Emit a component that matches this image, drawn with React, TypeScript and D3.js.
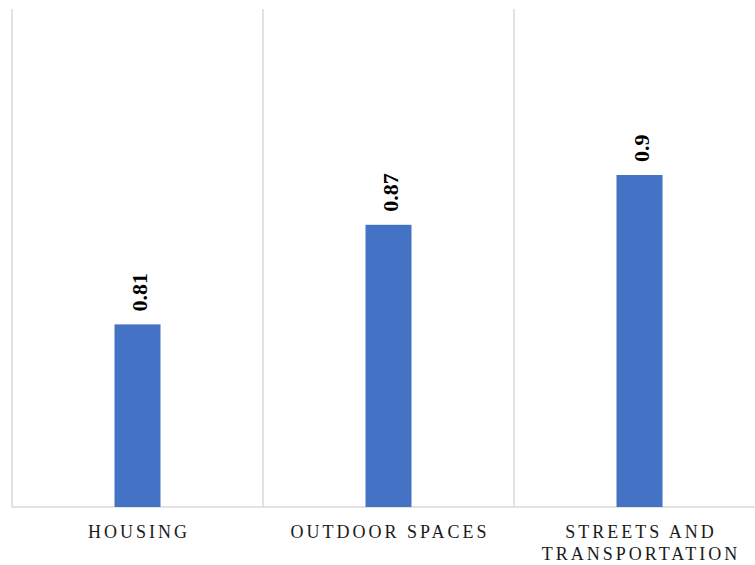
import React from "react";
import * as d3 from "d3";

const categories: string[][] = [["HOUSING"], ["OUTDOOR SPACES"], ["STREETS AND", "TRANSPORTATION"]];
const categoryKeys = ["Housing", "Outdoor Spaces", "Streets and Transportation"];
const values = [0.81, 0.87, 0.9];
const valueLabels = ["0.81", "0.87", "0.9"];

const W = 755;
const H = 565;
const left = 12;
const right = 765;
const top = 9;
const bottom = 507;
const barWidth = 46;

export default function App() {
  const x = d3.scaleBand<string>().domain(categoryKeys).range([left, right]).padding(0);
  const y = d3.scaleLinear().domain([0.7, 1.0]).range([bottom, top]);
  const step = x.step();

  return (
    <svg width={W} height={H} style={{ position: "absolute", left: 0, top: 0, background: "#fff" }}>
      {categoryKeys.map((k) => (
        <line key={"g" + k} x1={x(k)!} x2={x(k)!} y1={top} y2={bottom} stroke="#d9d9d9" strokeWidth={1.5} />
      ))}
      <line x1={left} x2={W} y1={bottom} y2={bottom} stroke="#d9d9d9" strokeWidth={1.5} />
      {categoryKeys.map((k, i) => {
        const cx = x(k)! + step / 2;
        const yt = y(values[i]);
        return (
          <g key={k}>
            <rect x={cx - barWidth / 2} y={yt} width={barWidth} height={bottom - yt} fill="#4472C4" />
            <text
              transform={`translate(${cx + 1.5},${yt - 13}) rotate(-90)`}
              dy="0.35em"
              textAnchor="start"
              fontFamily="Liberation Serif, Times New Roman, serif"
              fontWeight="bold"
              fontSize={22}
              fill="#000"
            >
              {valueLabels[i]}
            </text>
            {categories[i].map((line, j) => (
              <text
                key={j}
                x={cx + 1.5}
                y={538 + j * 22}
                textAnchor="middle"
                fontFamily="Liberation Serif, Times New Roman, serif"
                fontSize={18}
                letterSpacing={3}
                fill="#1a1a1a"
              >
                {line}
              </text>
            ))}
          </g>
        );
      })}
    </svg>
  );
}
